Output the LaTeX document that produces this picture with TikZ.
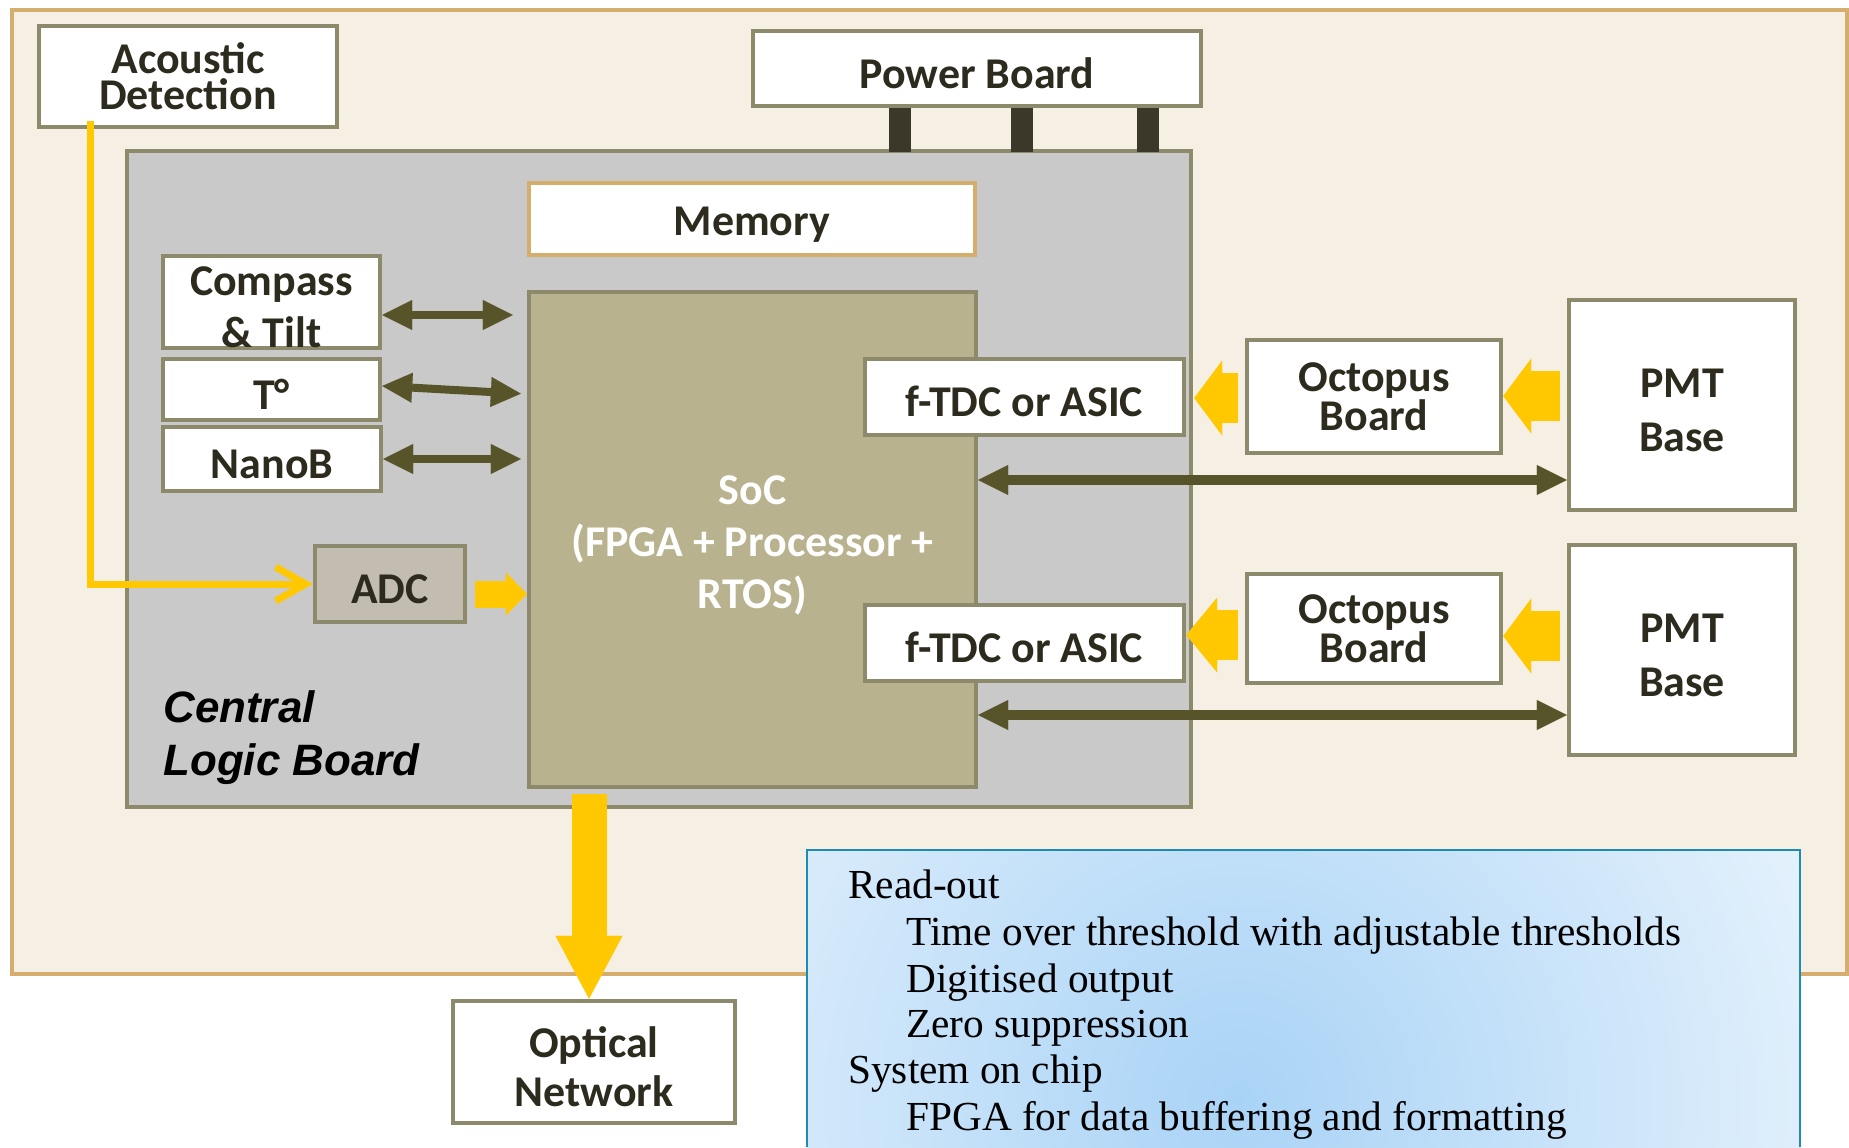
\documentclass[tikz,border=0pt]{standalone}
\usepackage{fontspec}
\usepackage{xcolor}
\usepackage{tikz}
\usetikzlibrary{arrows.meta}
\newfontfamily\boardfont{Carlito}
\newfontfamily\clbfont{Liberation Sans}
\newfontfamily\notefont{Liberation Serif}
\newcommand{\boardstrut}{\rule{0pt}{0.8cm}}
\definecolor{sand}{HTML}{F6EFE4}
\definecolor{sandedge}{HTML}{D5AD6C}
\definecolor{boardedge}{HTML}{8D8A6B}
\definecolor{clbgrey}{HTML}{C9C9C9}
\definecolor{socfill}{HTML}{B8B28E}
\definecolor{adcfill}{HTML}{C3BDB1}
\definecolor{linkc}{HTML}{575429}
\definecolor{sigyellow}{HTML}{FFC800}
\definecolor{inkc}{HTML}{2D2A1E}
\definecolor{pinc}{HTML}{3B3729}
\definecolor{noteedge}{HTML}{1E8BB4}
\definecolor{noteblue}{HTML}{A9D3F6}
\tikzset{
  board/.style={draw=boardedge,line width=0.09cm,fill=white,inner sep=0pt,align=center,text=inkc,
    font=\boardfont\bfseries\fontsize{25}{29.6}\selectfont,
    execute at begin node={\boardstrut}},
  tight/.style={font=\boardfont\bfseries\fontsize{25}{20.3}\selectfont,execute at begin node={}},
  loose/.style={font=\boardfont\bfseries\fontsize{25}{30.7}\selectfont},
  link/.style={draw=linkc,line width=#1,
    {Triangle[length=0.6cm,width=0.6cm,line width'=0.1pt]}-{Triangle[length=0.6cm,width=0.6cm,line width'=0.1pt]}},
  feed/.style n args={3}{draw=sigyellow,line width=#1,-{Triangle[length=#2,width=#3,line width'=0.1pt]}},
  note/.style={inner sep=0pt,text=black,font=\notefont\fontsize{23.5}{26.5}\selectfont}
}

\begin{document}
\begin{tikzpicture}[x=0.02cm,y=-0.02cm]
\fill[white] (0,0) rectangle (1849,1147);
\useasboundingbox (0,0) rectangle (1849,1147);
% module housing
\draw[sandedge,fill=sand,line width=0.08cm] (12,10) rectangle (1847,974);

% central logic board
\node[board,fill=clbgrey,minimum width=21.28cm,minimum height=13.12cm,execute at begin node={}] (clb) at (659,479) {};
\node[inner sep=0pt,anchor=north west,align=left,text=black,
  font=\clbfont\bfseries\itshape\fontsize{25}{30.2}\selectfont] (clbname) at (163,690) {Central\\Logic Board};
\node[board,draw=sandedge,minimum width=8.92cm,minimum height=1.44cm] (memory) at (752,219) {Memory};
\node[board,fill=socfill,text=white,minimum width=8.94cm,minimum height=9.9cm] (soc) at (752.5,539.5) {\boardstrut SoC\\(FPGA + Processor +\\RTOS)};

% power board on its pins
\foreach \xx in {900,1022,1148}
  \fill[pinc] (\xx-11,106) rectangle (\xx+11,152);
\node[board,minimum width=8.96cm,minimum height=1.5cm] (power) at (977,68.5) {Power Board};

% sensors
\node[board,tight,minimum width=5.96cm,minimum height=2.02cm] (acoustic) at (188,76.5) {Acoustic\\Detection};
\node[board,minimum width=4.34cm,minimum height=1.84cm] (compass) at (271.5,302) {\boardstrut Compass\\\& Tilt};
\node[board,minimum width=4.34cm,minimum height=1.22cm] (temp) at (271.5,389.5) {T°};
\node[board,minimum width=4.36cm,minimum height=1.28cm] (nanob) at (272,459) {NanoB};
\node[board,fill=adcfill,minimum width=3cm,minimum height=1.52cm] (adc) at (390,584) {ADC};
\draw[link=0.16cm,shorten >=0.28cm] (compass.east|-0,315) -- (soc.west|-0,315);
\draw[link=0.16cm,shorten >=0.12cm] (temp.east|-0,386) -- (soc.west|-0,394);
\draw[link=0.16cm,shorten >=0.12cm] (nanob.east|-0,459) -- (soc.west|-0,459);
\draw[sigyellow,line width=0.14cm,shorten <=-0.16cm,-{Straight Barb[length=0.6cm,width=0.68cm]}]
  (acoustic.south-|90,0) |- (adc.west);
\draw[feed={0.54cm}{0.42cm}{0.86cm},shorten <=0.16cm] (adc.east|-0,594) -- (soc.west|-0,594);

% front end chain
\node[board,minimum width=6.38cm,minimum height=1.52cm] (tdcA) at (1024.5,397) {f-TDC or ASIC};
\node[board,minimum width=6.38cm,minimum height=1.52cm] (tdcB) at (1024.5,643) {f-TDC or ASIC};
\node[board,tight,minimum width=5.08cm,minimum height=2.26cm] (octA) at (1374,396.5) {Octopus\\Board};
\node[board,tight,minimum width=5.08cm,minimum height=2.18cm] (octB) at (1374,628.5) {Octopus\\Board};
\node[board,loose,minimum width=4.52cm,minimum height=4.2cm] (pmtA) at (1682,405) {\boardstrut PMT\\Base};
\node[board,loose,minimum width=4.52cm,minimum height=4.2cm] (pmtB) at (1682,650) {\boardstrut PMT\\Base};
\draw[feed={1cm}{0.56cm}{1.5cm},shorten <=0.14cm] (pmtA.west|-0,396) -- (octA.east|-0,396);
\draw[feed={1cm}{0.56cm}{1.5cm},shorten <=0.14cm,shorten >=0.16cm] (octA.west|-0,398) -- (tdcA.east|-0,398);
\draw[feed={1cm}{0.56cm}{1.5cm},shorten <=0.14cm] (pmtB.west|-0,636) -- (octB.east|-0,636);
\draw[feed={1cm}{0.62cm}{1.5cm},shorten <=0.14cm] (octB.west|-0,635) -- (tdcB.east|-0,635);
\draw[link=0.2cm] (soc.east|-0,480) -- (pmtA.west|-0,480);
\draw[link=0.2cm] (soc.east|-0,715) -- (pmtB.west|-0,715);

% optical network
\node[board,font=\boardfont\bfseries\fontsize{25}{27.9}\selectfont,minimum width=5.64cm,minimum height=2.44cm] (optical) at (594,1062) {\boardstrut Optical\\Network};
\draw[feed={0.7cm}{1.26cm}{1.34cm},shorten <=0.1cm] (soc.south-|589,0) -- (optical.north-|589,0);

% read-out notes
\begin{scope}
\clip (807,850) rectangle (1800,1147);
\fill[white] (807,850) rectangle (1800,1147);
\shade[inner color=noteblue,outer color=white] (1238,1100) circle (18cm);
\end{scope}
\draw[noteedge,line width=0.03cm] (807,1147) |- (1800,850) -- (1800,1147);
\draw[noteedge,line width=0.05cm] (807,850) -- (1800,850);
\foreach \t/\xx/\yy [count=\i] in {Read-out/848/898,
    Time over threshold with adjustable thresholds/906/945,
    Digitised output/906/992, Zero suppression/906/1037,
    System on chip/848/1083, FPGA for data buffering and formatting/906/1130}
  \node[note,anchor=base west] (note\i) at (\xx,\yy) {\t};
\end{tikzpicture}
\end{document}
